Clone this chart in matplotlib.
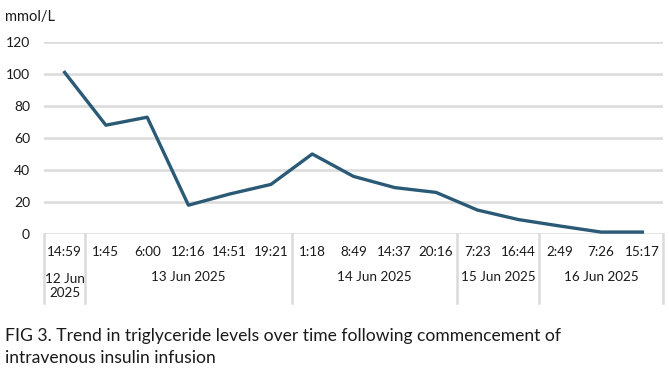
import matplotlib
matplotlib.use('Agg')
import matplotlib.pyplot as plt

# data
times = ['14:59', '1:45', '6:00', '12:16', '14:51', '19:21', '1:18', '8:49',
         '14:37', '20:16', '7:23', '16:44', '2:49', '7:26', '15:17']
tg_levels = [101, 68, 73, 18, 25, 31, 50, 36, 29, 26, 15, 9, 5, 1.2, 1.2]
dates = ['12 Jun\n2025', '13 Jun 2025', '14 Jun 2025', '15 Jun 2025', '16 Jun 2025']
day_counts = [1, 5, 4, 2, 3]
y_ticks = [0, 20, 40, 60, 80, 100, 120]

plt.rcParams['font.family'] = ['Lato', 'DejaVu Sans']

fig = plt.figure(figsize=(6.69, 3.76), dpi=100)
ax = fig.add_axes([44 / 669, 1 - 234 / 376, 619 / 669, 192 / 376])

x = list(range(len(times)))
ax.plot(x, tg_levels, color='#2a5a75', lw=2.4, zorder=3)

ax.set_xlim(-0.5, len(times) - 0.5)
ax.set_ylim(0, 120)
ax.set_yticks(y_ticks)
ax.set_yticklabels([str(v) for v in y_ticks], fontsize=10, color='#1a1a1a')
ax.tick_params(axis='y', length=0, pad=10)
ax.set_xticks([])
for s in ax.spines.values():
    s.set_visible(False)
for v in y_ticks:
    ax.axhline(v, color='#dadada', lw=1.8, zorder=1)

trans = ax.get_xaxis_transform()
# time labels
for i, t in enumerate(times):
    ax.text(i, -0.095, t, transform=trans, ha='center', va='center',
            fontsize=9.7, color='#1a1a1a')

# date groups and separators
start = 0
bounds = [-0.5]
for d, n in zip(dates, day_counts):
    centre = start + (n - 1) / 2
    if '\n' in d:
        ax.text(centre, -0.27, d, transform=trans, ha='center', va='center',
                fontsize=9.7, color='#1a1a1a', linespacing=1.2)
    else:
        ax.text(centre, -0.225, d, transform=trans, ha='center', va='center',
                fontsize=9.7, color='#1a1a1a')
    start += n
    bounds.append(start - 0.5)
for b in bounds:
    ax.plot([b, b], [0, -0.36], transform=trans, color='#dadada', lw=1.8,
            clip_on=False, zorder=1)

fig.text(5 / 669, 1 - 17 / 376, 'mmol/L', fontsize=10.5, color='#1a1a1a',
         ha='left', va='center')
fig.text(5 / 669, 1 - 336 / 376,
         'FIG 3. Trend in triglyceride levels over time following commencement of',
         fontsize=12.6, color='#1a1a1a', ha='left', va='center')
fig.text(5 / 669, 1 - 358 / 376, 'intravenous insulin infusion',
         fontsize=12.6, color='#1a1a1a', ha='left', va='center')

fig.savefig('out.png', dpi=100)
